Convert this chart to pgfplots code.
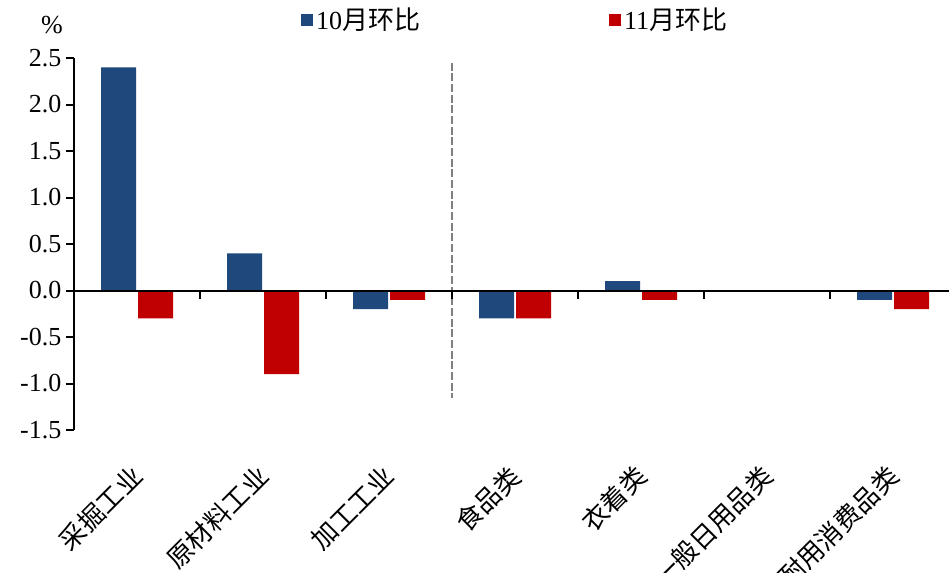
\documentclass[border=0pt]{standalone}
\usepackage{pgfplots}
\pgfplotsset{compat=1.18}
\usepackage{fontspec}
\setmainfont{Liberation Serif}
\newfontfamily\cjk{Noto Sans CJK SC}
\definecolor{cblue}{RGB}{31,73,125}
\definecolor{cred}{RGB}{192,0,0}
\begin{document}
\begin{tikzpicture}[x=1pt,y=1pt]
\useasboundingbox (-55.5,-106.5) rectangle (656.25,322.5);
\clip (-55.5,-106.5) rectangle (656.25,322.5);
\begin{axis}[
  at={(0,0)}, anchor=south west,
  scale only axis, width=656.25pt, height=279pt,
  xmin=-0.5, xmax=6.444, ymin=-1.5, ymax=2.5,
  clip=false,
  axis y line*=left, axis x line*=bottom,
  x axis line style={draw=none},
  y axis line style={line width=1.5pt},
  ytick={-1.5,-1,-0.5,0,0.5,1,1.5,2,2.5},
  yticklabels={-1.5,-1.0,-0.5,0.0,0.5,1.0,1.5,2.0,2.5},
  ytick style={line width=1.5pt, black},
  tick align=outside, major tick length=6pt,
  xtick={0,1,2,3,4,5,6},
  xtick style={draw=none},
  xticklabels={{\cjk 采掘工业},{\cjk 原材料工业},{\cjk 加工工业},{\cjk 食品类},{\cjk 衣着类},{\cjk 一般日用品类},{\cjk 耐用消费品类}},
  tick label style={font=\fontsize{19.5pt}{23pt}\selectfont},
  xticklabel style={rotate=45, anchor=north east, yshift=-5.5pt, xshift=-14pt},
  ybar, bar width=26.25pt,
  legend columns=2,
  legend style={at={(0.255,1.102)}, anchor=west, draw=none, fill=none,
    font=\fontsize{19.5pt}{23pt}\selectfont,
    /tikz/every even column/.append style={column sep=140pt}},
  legend image code/.code={\draw[#1, draw=none] (0pt,-4.5pt) rectangle (9pt,4.5pt);},
]
\addplot[fill=cblue, draw=none, bar shift=-13.875pt] coordinates {(0,2.4) (1,0.4) (2,-0.2) (3,-0.3) (4,0.1) (5,0) (6,-0.1)};
\addlegendentry{10{\cjk 月环比}}
\addplot[fill=cred, draw=none, bar shift=13.875pt] coordinates {(0,-0.3) (1,-0.9) (2,-0.1) (3,-0.3) (4,-0.1) (5,0) (6,-0.2)};
\addlegendentry{11{\cjk 月环比}}
\draw[color={rgb,255:red,128;green,128;blue,128}, line width=1.8pt, dash pattern=on 6pt off 2pt] (axis cs:2.5,2.45) -- (axis cs:2.5,-1.16);
\draw[line width=1.5pt] (axis cs:-0.5,0) -- (axis cs:6.444,0);
\pgfplotsinvokeforeach{0.5,1.5,2.5,3.5,4.5,5.5}{
  \draw[line width=1.5pt] (axis cs:#1,0) -- ++(0pt,-6pt);
}
\node[font=\fontsize{19.5pt}{23pt}\selectfont] at (rel axis cs:0,1) [xshift=-16.5pt, yshift=25pt] {\%};
\end{axis}
\end{tikzpicture}
\end{document}
